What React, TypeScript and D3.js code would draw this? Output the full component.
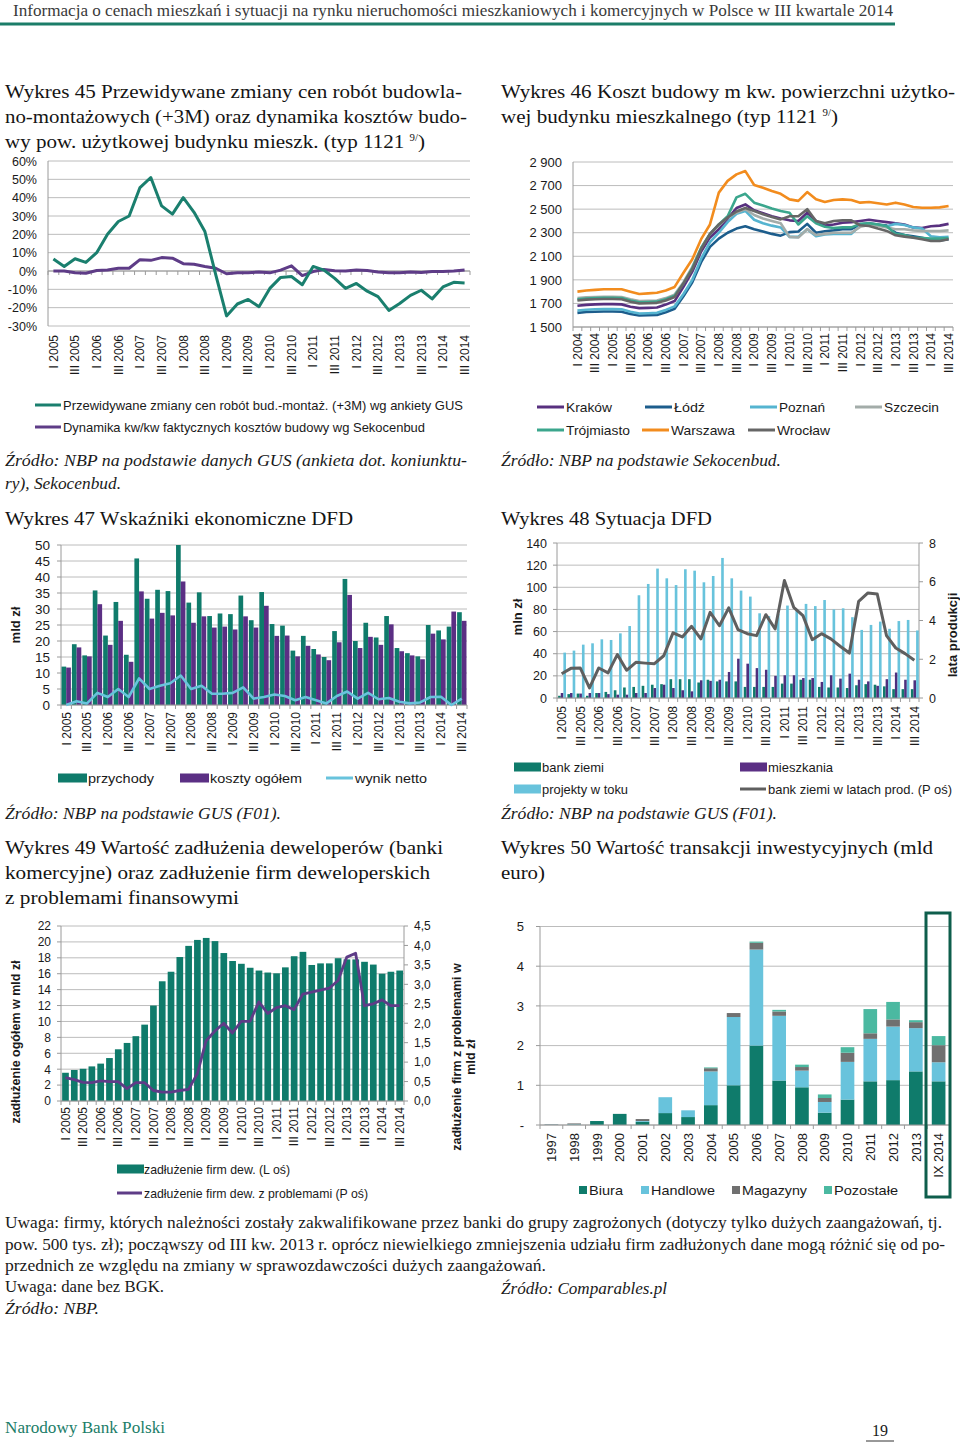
import { useEffect, useRef } from 'react';
import * as d3 from 'd3';

const SERIF = "'Liberation Serif', 'Times New Roman', serif";
const SANS = "'Liberation Sans', Arial, sans-serif";
const NARROW = "'Liberation Sans Narrow', 'Arial Narrow', 'Liberation Sans', sans-serif";

const GRID = '#bcbcbc';
const AXIS = '#9a9a9a';
const TEAL = '#0f7b6b';
const PURPLE = '#5b2f84';
const SKY = '#68c3dc';
const GRAPHITE = '#5f5f5f';

// quarter labels, e.g. "I 2005" ... "III 2014"
const quarterNames = ['I', 'II', 'III', 'IV'];
const quarters = (from: number, to: number, lastQ: number) => {
  const out: string[] = [];
  for (let y = from; y <= to; y++) {
    for (let q = 0; q < 4; q++) {
      if (y === to && q >= lastQ) break;
      out.push(`${quarterNames[q]} ${y}`);
    }
  }
  return out;
};
const Q05 = quarters(2005, 2014, 3);
const Q04 = quarters(2004, 2014, 3);

// Wykres 45 (%)
const ticks45 = [-30, -20, -10, 0, 10, 20, 30, 40, 50, 60];
const gusForecast = [6.5, 2.5, 6.7, 4.7, 10, 20, 27, 30, 45.5, 51, 35.5, 31, 40, 32, 21.5, -2, -24.5, -18, -15.5, -19.5, -9.5, -3.5, -3, -7.5, 2.5, 0.5, -4, -9.5, -6.8, -11, -14, -21.5, -17.7, -13.3, -10.5, -15.2, -8.7, -6.2, -6.5];
const sekocenbudDyn = [0, 0, -1, -1.2, 0.3, 0.5, 1.5, 1.5, 6.2, 5.8, 7.3, 7, 4, 3.7, 2.5, 1.5, -1.5, -1, -1, -0.5, -1, 0.5, 2.8, -2.5, -0.3, 0.8, 0.2, 0, 0.5, 0.3, -0.5, -1, -1, -0.5, -0.8, -0.3, -0.3, 0, 0.6];

// Wykres 46 (zł / m kw.)
const ticks46 = [1500, 1700, 1900, 2100, 2300, 2500, 2700, 2900];
const krakow = [1680, 1688, 1692, 1694, 1694, 1692, 1672, 1660, 1662, 1665, 1690, 1720, 1840, 1970, 2140, 2260, 2330, 2420, 2510, 2540, 2490, 2465, 2440, 2420, 2405, 2400, 2470, 2400, 2360, 2370, 2385, 2390, 2400, 2410, 2400, 2390, 2380, 2370, 2345, 2340, 2355, 2360, 2375];
const lodz = [1620, 1627, 1630, 1632, 1632, 1630, 1610, 1597, 1600, 1602, 1625, 1655, 1760, 1880, 2050, 2180, 2250, 2300, 2335, 2355, 2330, 2310, 2290, 2275, 2305, 2310, 2375, 2300, 2312, 2320, 2330, 2330, 2370, 2380, 2370, 2360, 2300, 2280, 2270, 2258, 2240, 2235, 2245];
const poznan = [1640, 1647, 1650, 1652, 1652, 1650, 1630, 1615, 1617, 1620, 1645, 1675, 1780, 1900, 2080, 2220, 2300, 2390, 2460, 2485, 2410, 2380, 2360, 2345, 2265, 2265, 2330, 2270, 2285, 2290, 2290, 2290, 2360, 2370, 2365, 2355, 2375, 2365, 2345, 2335, 2270, 2262, 2265];
const szczecin = [1745, 1752, 1755, 1757, 1757, 1755, 1735, 1720, 1722, 1725, 1745, 1775, 1880, 2010, 2170, 2290, 2360, 2430, 2470, 2500, 2450, 2420, 2400, 2380, 2265, 2260, 2330, 2280, 2290, 2300, 2300, 2300, 2350, 2365, 2360, 2345, 2330, 2330, 2320, 2315, 2315, 2315, 2320];
const trojmiasto = [1735, 1742, 1745, 1747, 1747, 1745, 1725, 1710, 1712, 1715, 1735, 1765, 1870, 2000, 2170, 2290, 2370, 2440, 2600, 2630, 2555, 2530, 2505, 2485, 2470, 2370, 2440, 2380, 2350, 2340, 2345, 2345, 2375, 2380, 2370, 2355, 2290, 2280, 2260, 2255, 2250, 2250, 2255];
const warszawa = [1800, 1810, 1815, 1820, 1820, 1820, 1800, 1780, 1785, 1790, 1810, 1840, 1960, 2075, 2245, 2370, 2640, 2740, 2795, 2823, 2705, 2682, 2654, 2630, 2583, 2570, 2645, 2583, 2560, 2578, 2583, 2578, 2555, 2560, 2550, 2540, 2555, 2540, 2518, 2512, 2512, 2515, 2527];
const wroclaw = [1725, 1732, 1735, 1737, 1737, 1735, 1715, 1700, 1702, 1705, 1725, 1755, 1870, 1990, 2160, 2290, 2370, 2430, 2480, 2510, 2484, 2456, 2433, 2413, 2440, 2440, 2500, 2400, 2380, 2400, 2405, 2405, 2363, 2357, 2335, 2315, 2278, 2267, 2258, 2244, 2230, 2230, 2244];
const cities = [
  { name: 'Kraków', values: krakow, color: '#58307f' },
  { name: 'Łódź', values: lodz, color: '#1c5d8c' },
  { name: 'Poznań', values: poznan, color: '#55b4d0' },
  { name: 'Szczecin', values: szczecin, color: '#a3aca9' },
  { name: 'Trójmiasto', values: trojmiasto, color: '#3ba68d' },
  { name: 'Warszawa', values: warszawa, color: '#f28c1e' },
  { name: 'Wrocław', values: wroclaw, color: '#666666' },
];

// Wykres 47 (mld zł)
const ticks47 = [0, 5, 10, 15, 20, 25, 30, 35, 40, 45, 50];
const przychody = [12, 19, 15.5, 35.8, 21.7, 32.2, 15.7, 45.8, 33.2, 36, 35.6, 50, 32, 35.2, 27.8, 28.6, 28.4, 34.2, 26.5, 35.3, 25.3, 24.8, 17, 21.6, 17.5, 15, 23.1, 39.4, 20, 25.7, 21.1, 27.8, 17.8, 16.2, 15.2, 25, 23.3, 24.5, 29];
const kosztyOgolem = [11.7, 18, 15.2, 31.5, 18.8, 26.3, 13.5, 35.5, 27, 28.8, 28, 38.6, 25.7, 27.7, 24.2, 24.5, 23.6, 27.7, 24.2, 31, 21.6, 21.7, 15.2, 18.5, 15.8, 14, 19.6, 34.4, 17.8, 21.3, 18.8, 25.2, 16.8, 15.5, 14.3, 22.3, 20.5, 29.2, 26.3];
const wynikNetto = [0, 1.2, 0.5, 3.8, 2.5, 5, 2.5, 8.3, 5, 6, 6.8, 9.2, 5, 6, 3.5, 3.5, 3.8, 5.5, 2, 2.5, 3.3, 2.8, 1.5, 2.5, 1.5, 0.5, 2.8, 4.2, 2, 3.8, 1.8, 2.2, 1, 0.5, 0.8, 2.5, 2.6, 0, 2];

// Wykres 48 (mln zł, lata)
const ticks48L = [0, 20, 40, 60, 80, 100, 120, 140];
const ticks48R = [0, 2, 4, 6, 8];
const bankZiemi = [2, 3.5, 4, 2, 4.5, 5.5, 7, 9.5, 10, 11, 12, 12.5, 17, 17, 17, 14, 16.5, 15, 15, 15, 10, 10, 10, 10, 13, 13, 16.5, 16.5, 10, 9.5, 9.5, 9, 11.5, 12.5, 12, 10.5, 8, 8, 8];
const mieszkania = [4.5, 4.5, 4, 4.5, 4.5, 3.5, 3, 3, 4.5, 4.5, 9, 12, 9, 7, 6, 16, 15.5, 16.5, 23.5, 35.5, 31, 27, 25.5, 20, 20.5, 20.5, 18, 18, 14.5, 20.5, 17.5, 22, 16.5, 15, 11, 17, 23, 16.5, 16];
const projektyWToku = [41, 42.8, 48.2, 49.4, 53, 52.4, 58.4, 65, 92.8, 103, 116.9, 108.1, 102, 116.3, 115, 104.5, 110.2, 126.5, 108.1, 97, 91.6, 76.5, 74, 76, 83.5, 79, 85, 83, 88.5, 80, 81, 73, 61.5, 66, 69, 62.5, 69.5, 70.5, 61];
const bankZiemiLata = [1.25, 1.53, 1.55, 0.52, 1.55, 1.3, 2.24, 1.43, 1.84, 1.8, 1.77, 2.18, 3.36, 3.15, 3.7, 3.05, 4.42, 3.73, 4.65, 3.53, 3.32, 3.22, 4.3, 3.56, 6.06, 4.68, 4.25, 3.01, 3.32, 3.05, 2.67, 2.32, 4.99, 5.42, 5.37, 3.22, 2.58, 2.29, 1.95];

// Wykres 49 (mld zł)
const ticks49L = [0, 2, 4, 6, 8, 10, 12, 14, 16, 18, 20, 22];
const ticks49R = [0, 0.5, 1, 1.5, 2, 2.5, 3, 3.5, 4, 4.5];
const zadluzenie = [3.55, 3.9, 4.05, 4.35, 4.7, 5.4, 6.5, 7.3, 8.15, 9.6, 12, 15.05, 16.25, 18.1, 19.5, 20.25, 20.5, 20.1, 18.6, 17.6, 17.25, 16.75, 16.4, 16.15, 16.05, 16.8, 18.2, 18.75, 17.1, 17.3, 17.3, 17.95, 17.8, 17.8, 17.5, 17.15, 16.0, 16.25, 16.4];
const zadluzenieProblemy = [0.6, 0.55, 0.48, 0.47, 0.52, 0.5, 0.5, 0.32, 0.47, 0.47, 0.27, 0.23, 0.23, 0.27, 0.3, 0.7, 1.55, 1.8, 2.0, 1.75, 2.05, 2.05, 2.55, 2.25, 2.4, 2.45, 2.35, 2.75, 2.8, 2.85, 2.9, 3.1, 3.7, 3.8, 2.45, 2.5, 2.6, 2.45, 2.45];

// Wykres 50 (mld euro)
const ticks50 = [0, 1, 2, 3, 4, 5];
const years50 = ['1997', '1998', '1999', '2000', '2001', '2002', '2003', '2004', '2005', '2006', '2007', '2008', '2009', '2010', '2011', '2012', '2013', 'IX 2014'];
const biura = [0, 0.01, 0.1, 0.28, 0.08, 0.3, 0.2, 0.5, 1.0, 2.0, 1.12, 0.95, 0.31, 0.64, 1.1, 1.13, 1.35, 1.1];
const handlowe = [0.01, 0.01, 0, 0, 0.02, 0.4, 0.17, 0.85, 1.72, 2.42, 1.63, 0.42, 0.27, 0.95, 1.07, 1.35, 1.09, 0.48];
const magazyny = [0.01, 0.02, 0, 0, 0.05, 0, 0, 0.08, 0.1, 0.17, 0.11, 0.09, 0.1, 0.23, 0.14, 0.18, 0.15, 0.43];
const pozostale = [0, 0, 0, 0, 0, 0, 0, 0.02, 0, 0.03, 0.04, 0.06, 0.09, 0.14, 0.61, 0.44, 0.05, 0.23];

interface TextOpts {
  size?: number;
  family?: string;
  weight?: string | number;
  italic?: boolean;
  anchor?: string;
  fill?: string;
  len?: number;
  rotate?: number;
}

function txt(g: any, x: number, y: number, s: string, o: TextOpts = {}) {
  const t = g
    .append('text')
    .attr('transform', o.rotate ? `translate(${x},${y}) rotate(${o.rotate})` : null)
    .attr('x', o.rotate ? 0 : x)
    .attr('y', o.rotate ? 0 : y)
    .attr('font-family', o.family ?? SANS)
    .attr('font-size', o.size ?? 12)
    .attr('font-weight', o.weight ?? 'normal')
    .attr('font-style', o.italic ? 'italic' : 'normal')
    .attr('text-anchor', o.anchor ?? 'start')
    .attr('fill', o.fill ?? '#1a1a1a')
    .text(s);
  if (o.len) t.attr('textLength', o.len).attr('lengthAdjust', 'spacingAndGlyphs');
  return t;
}

function supText(g: any, x: number, y: number, before: string, sup: string, after: string, o: TextOpts) {
  const t = txt(g, x, y, '', o);
  t.append('tspan').text(before);
  t.append('tspan').attr('font-size', 10).attr('dy', -7).text(sup);
  t.append('tspan').attr('dy', 7).text(after);
}

function hline(g: any, x1: number, x2: number, y: number, color: string, w = 1) {
  g.append('line').attr('x1', x1).attr('x2', x2).attr('y1', y).attr('y2', y).attr('stroke', color).attr('stroke-width', w);
}

function vline(g: any, x: number, y1: number, y2: number, color: string, w = 1) {
  g.append('line').attr('x1', x).attr('x2', x).attr('y1', y1).attr('y2', y2).attr('stroke', color).attr('stroke-width', w);
}

// horizontal grid + tick labels for a value axis
function valueAxis(g: any, y: any, ticks: number[], fmt: (d: number) => string, o: { x0: number; x1: number; labelX: number; anchor: string; size: number; grid: boolean; tickX?: number; tickDir?: number }) {
  ticks.forEach((d) => {
    if (o.grid) hline(g, o.x0, o.x1, y(d), GRID);
    if (o.tickX !== undefined) g.append('line').attr('x1', o.tickX).attr('x2', o.tickX + 4 * (o.tickDir ?? -1)).attr('y1', y(d)).attr('y2', y(d)).attr('stroke', AXIS);
    txt(g, o.labelX, y(d) + o.size * 0.36, fmt(d), { size: o.size, anchor: o.anchor });
  });
}

function categoryAxis(g: any, x: any, yLine: number, labels: string[], every: number, labelTop: number, size: number) {
  const [r0, r1] = x.range();
  hline(g, r0, r1, yLine, AXIS);
  const step = x.step();
  for (let i = 0; i <= labels.length; i++) vline(g, r0 + i * step, yLine, yLine + 4, AXIS);
  labels.forEach((l, i) => {
    if (i % every) return;
    txt(g, x(l) + step / 2 + size * 0.36, labelTop, l, { size, anchor: 'end', rotate: -90 });
  });
}

function lineSwatch(g: any, x1: number, x2: number, y: number, color: string, label: string, len: number) {
  hline(g, x1, x2, y, color, 3);
  txt(g, x2 + 2, y + 4.5, label, { family: NARROW, size: 13, len });
}

function rectSwatch(g: any, x: number, y: number, w: number, h: number, color: string, label: string, len: number, tx: number) {
  g.append('rect').attr('x', x).attr('y', y - h / 2).attr('width', w).attr('height', h).attr('fill', color);
  txt(g, tx, y + 4.5, label, { family: NARROW, size: 13, len });
}

function drawPage(g: any) {
  txt(g, 13, 16, 'Informacja o cenach mieszkań i sytuacji na rynku nieruchomości mieszkaniowych i komercyjnych w Polsce w III kwartale 2014', { family: SERIF, size: 16, fill: '#3a3a3a', len: 880 });
  hline(g, 0, 895, 24, '#1b7d68', 3);

  const T = { family: SERIF, size: 19.5, fill: '#141414' };
  txt(g, 5, 98, 'Wykres 45 Przewidywane zmiany cen robót budowla-', { ...T, len: 457 });
  txt(g, 5, 123, 'no-montażowych (+3M) oraz dynamika kosztów budo-', { ...T, len: 462 });
  supText(g, 5, 148, 'wy pow. użytkowej budynku mieszk. (typ 1121 ', '9/', ')', { ...T, len: 420 });
  txt(g, 501, 98, 'Wykres 46 Koszt budowy m kw. powierzchni użytko-', { ...T, len: 454 });
  supText(g, 501, 123, 'wej budynku mieszkalnego (typ 1121 ', '9/', ')', { ...T, len: 337 });
  txt(g, 5, 525, 'Wykres 47 Wskaźniki ekonomiczne DFD', { ...T, len: 348 });
  txt(g, 501, 525, 'Wykres 48 Sytuacja DFD', { ...T, len: 211 });
  txt(g, 5, 854, 'Wykres 49 Wartość zadłużenia deweloperów (banki', { ...T, len: 438 });
  txt(g, 5, 879, 'komercyjne) oraz zadłużenie firm deweloperskich', { ...T, len: 425 });
  txt(g, 5, 904, 'z problemami finansowymi', { ...T, len: 234 });
  txt(g, 501, 854, 'Wykres 50 Wartość transakcji inwestycyjnych (mld', { ...T, len: 432 });
  txt(g, 501, 879, 'euro)', { ...T, len: 44 });

  const S = { family: SERIF, size: 17, italic: true, fill: '#1a1a1a' };
  txt(g, 5, 466, 'Źródło: NBP na podstawie danych GUS (ankieta dot. koniunktu-', { ...S, len: 462 });
  txt(g, 5, 489, 'ry), Sekocenbud.', { ...S, len: 116 });
  txt(g, 501, 466, 'Źródło: NBP na podstawie Sekocenbud.', { ...S, len: 280 });
  txt(g, 5, 819, 'Źródło: NBP na podstawie GUS (F01).', { ...S, len: 276 });
  txt(g, 501, 819, 'Źródło: NBP na podstawie GUS (F01).', { ...S, len: 276 });

  const N = { family: SERIF, size: 16, fill: '#1a1a1a' };
  txt(g, 5, 1228, 'Uwaga: firmy, których należności zostały zakwalifikowane przez banki do grupy zagrożonych (dotyczy tylko dużych zaangażowań, tj.', { ...N, len: 937 });
  txt(g, 5, 1250, 'pow. 500 tys. zł); począwszy od III kw. 2013 r. oprócz niewielkiego zmniejszenia udziału firm zadłużonych dane mogą różnić się od po-', { ...N, len: 940 });
  txt(g, 5, 1271, 'przednich ze względu na zmiany w sprawozdawczości dużych zaangażowań.', { ...N, len: 541 });
  txt(g, 5, 1292, 'Uwaga: dane bez BGK.', { ...N, len: 159 });
  txt(g, 5, 1314, 'Źródło: NBP.', { ...N, italic: true, len: 94 });
  txt(g, 501, 1294, 'Źródło: Comparables.pl', { ...N, italic: true, len: 166 });

  txt(g, 5, 1433, 'Narodowy Bank Polski', { family: SERIF, size: 16, fill: '#1b7d68', len: 160 });
  txt(g, 880, 1436, '19', { family: SERIF, size: 16, anchor: 'middle' });
  hline(g, 866, 894, 1441, '#333', 1);
}

function drawChart45(g: any) {
  const x = d3.scaleBand<string>().domain(Q05).range([48, 470]);
  const y = d3.scaleLinear().domain([-30, 60]).range([326, 161]);
  valueAxis(g, y, ticks45, (d) => `${d}%`, { x0: 48, x1: 470, labelX: 37, anchor: 'end', size: 12.5, grid: true });
  vline(g, 48, 161, 326, AXIS);
  categoryAxis(g, x, y(0), Q05, 2, 335, 12);
  g.selectAll('text.cat').remove();
  const cx = (i: number) => (x(Q05[i]) as number) + x.bandwidth() / 2;
  const line = d3.line<number>().x((_, i) => cx(i)).y((d) => y(d));
  g.append('path').attr('d', line(sekocenbudDyn)).attr('fill', 'none').attr('stroke', '#5e3c87').attr('stroke-width', 3).attr('stroke-linejoin', 'round');
  g.append('path').attr('d', line(gusForecast)).attr('fill', 'none').attr('stroke', '#1a7f6e').attr('stroke-width', 3).attr('stroke-linejoin', 'round');

  lineSwatch(g, 35, 61, 405, '#1a7f6e', 'Przewidywane zmiany cen robót bud.-montaż. (+3M) wg ankiety GUS', 400);
  lineSwatch(g, 35, 61, 427, '#5e3c87', 'Dynamika kw/kw faktycznych kosztów budowy wg Sekocenbud', 362);
}

function drawChart46(g: any) {
  const x = d3.scaleBand<string>().domain(Q04).range([573, 953]);
  const y = d3.scaleLinear().domain([1500, 2900]).range([327, 162]);
  const fmt = (d: number) => `${Math.floor(d / 1000)} ${String(d % 1000).padStart(3, '0')}`;
  valueAxis(g, y, ticks46, fmt, { x0: 573, x1: 953, labelX: 562, anchor: 'end', size: 13, grid: true });
  vline(g, 573, 162, 327, AXIS);
  categoryAxis(g, x, y(1500), Q04, 2, 333, 12);
  const cx = (i: number) => (x(Q04[i]) as number) + x.bandwidth() / 2;
  const line = d3.line<number>().x((_, i) => cx(i)).y((d) => y(d));
  cities.forEach((c) => {
    g.append('path').attr('d', line(c.values)).attr('fill', 'none').attr('stroke', c.color).attr('stroke-width', 2.6).attr('stroke-linejoin', 'round');
  });

  const pos = [
    [537, 407, 46], [645, 407, 31], [750, 407, 46], [855, 407, 55],
    [537, 430, 64], [642, 430, 64], [748, 430, 53],
  ];
  cities.forEach((c, i) => {
    const [lx, ly, len] = pos[i];
    lineSwatch(g, lx, lx + 27, ly, c.color, c.name, len);
  });
}

function drawChart47(g: any) {
  const x = d3.scaleBand<string>().domain(Q05).range([61, 467]);
  const y = d3.scaleLinear().domain([0, 50]).range([705, 545]);
  valueAxis(g, y, ticks47, (d) => `${d}`, { x0: 61, x1: 467, labelX: 50, anchor: 'end', size: 13.5, grid: true, tickX: 61 });
  vline(g, 61, 545, 705, AXIS);
  const bw = x.bandwidth();
  const sub = d3.scaleBand<string>().domain(['p', 'k']).range([bw * 0.05, bw * 0.95]);
  const cx = (i: number) => (x(Q05[i]) as number) + bw / 2;
  g.selectAll('rect.p').data(przychody).enter().append('rect')
    .attr('x', (_: number, i: number) => (x(Q05[i]) as number) + (sub('p') as number))
    .attr('y', (d: number) => y(d)).attr('width', sub.bandwidth()).attr('height', (d: number) => y(0) - y(d)).attr('fill', TEAL);
  g.selectAll('rect.k').data(kosztyOgolem).enter().append('rect')
    .attr('x', (_: number, i: number) => (x(Q05[i]) as number) + (sub('k') as number))
    .attr('y', (d: number) => y(d)).attr('width', sub.bandwidth()).attr('height', (d: number) => y(0) - y(d)).attr('fill', PURPLE);
  categoryAxis(g, x, y(0), Q05, 2, 712, 12);
  const line = d3.line<number>().x((_, i) => cx(i)).y((d) => y(d));
  g.append('path').attr('d', line(wynikNetto)).attr('fill', 'none').attr('stroke', SKY).attr('stroke-width', 2.6).attr('stroke-linejoin', 'round');
  txt(g, 20, 625, 'mld zł', { size: 13, weight: 'bold', anchor: 'middle', rotate: -90 });

  rectSwatch(g, 58, 778, 29, 9, TEAL, 'przychody', 66, 88);
  rectSwatch(g, 180, 778, 29, 9, PURPLE, 'koszty ogółem', 92, 210);
  lineSwatch(g, 326, 353, 778, SKY, 'wynik netto', 72);
}

function drawChart48(g: any) {
  const x = d3.scaleBand<string>().domain(Q05).range([557, 919]);
  const yL = d3.scaleLinear().domain([0, 140]).range([698, 543]);
  const yR = d3.scaleLinear().domain([0, 8]).range([698, 543]);
  valueAxis(g, yL, ticks48L, (d) => `${d}`, { x0: 557, x1: 919, labelX: 547, anchor: 'end', size: 12.5, grid: true, tickX: 557 });
  valueAxis(g, yR, ticks48R, (d) => `${d}`, { x0: 557, x1: 919, labelX: 929, anchor: 'start', size: 12.5, grid: false, tickX: 919, tickDir: 1 });
  vline(g, 557, 543, 698, AXIS);
  vline(g, 919, 543, 698, AXIS);
  const bw = x.bandwidth();
  const sub = d3.scaleBand<string>().domain(['b', 'm', 'p']).range([bw * 0.12, bw * 0.97]);
  const series: [number[], string, string][] = [[bankZiemi, 'b', TEAL], [mieszkania, 'm', '#4d2f7d'], [projektyWToku, 'p', SKY]];
  series.forEach(([vals, key, color]) => {
    g.selectAll(null).data(vals).enter().append('rect')
      .attr('x', (_: number, i: number) => (x(Q05[i]) as number) + (sub(key) as number))
      .attr('y', (d: number) => yL(d)).attr('width', sub.bandwidth()).attr('height', (d: number) => yL(0) - yL(d)).attr('fill', color);
  });
  categoryAxis(g, x, yL(0), Q05, 2, 706, 12);
  const cx = (i: number) => (x(Q05[i]) as number) + bw / 2;
  const line = d3.line<number>().x((_, i) => cx(i)).y((d) => yR(d));
  g.append('path').attr('d', line(bankZiemiLata)).attr('fill', 'none').attr('stroke', GRAPHITE).attr('stroke-width', 3).attr('stroke-linejoin', 'round');
  txt(g, 522, 617, 'mln  zł', { size: 13, weight: 'bold', anchor: 'middle', rotate: -90 });
  txt(g, 957, 635, 'lata produkcji', { size: 13, weight: 'bold', anchor: 'middle', rotate: -90 });

  rectSwatch(g, 514, 767, 27, 9, TEAL, 'bank ziemi', 62, 542);
  rectSwatch(g, 740, 767, 27, 9, PURPLE, 'mieszkania', 65, 768);
  rectSwatch(g, 514, 789, 27, 9, SKY, 'projekty w toku', 86, 542);
  lineSwatch(g, 740, 766, 789, GRAPHITE, 'bank ziemi w latach prod. (P oś)', 184);
}

function drawChart49(g: any) {
  const x = d3.scaleBand<string>().domain(Q05).range([61, 404]);
  const yL = d3.scaleLinear().domain([0, 22]).range([1101, 926]);
  const yR = d3.scaleLinear().domain([0, 4.5]).range([1101, 926]);
  valueAxis(g, yL, ticks49L, (d) => `${d}`, { x0: 61, x1: 404, labelX: 51, anchor: 'end', size: 12, grid: true, tickX: 61 });
  valueAxis(g, yR, ticks49R, (d) => d.toFixed(1).replace('.', ','), { x0: 61, x1: 404, labelX: 414, anchor: 'start', size: 12, grid: false, tickX: 404, tickDir: 1 });
  vline(g, 61, 926, 1101, AXIS);
  vline(g, 404, 926, 1101, AXIS);
  const bw = x.bandwidth();
  g.selectAll(null).data(zadluzenie).enter().append('rect')
    .attr('x', (_: number, i: number) => (x(Q05[i]) as number) + bw * 0.13)
    .attr('y', (d: number) => yL(d)).attr('width', bw * 0.76).attr('height', (d: number) => yL(0) - yL(d)).attr('fill', TEAL);
  categoryAxis(g, x, yL(0), Q05, 2, 1107, 12);
  const cx = (i: number) => (x(Q05[i]) as number) + bw / 2;
  const line = d3.line<number>().x((_, i) => cx(i)).y((d) => yR(d));
  g.append('path').attr('d', line(zadluzenieProblemy)).attr('fill', 'none').attr('stroke', '#5e3c87').attr('stroke-width', 2.8).attr('stroke-linejoin', 'round');
  txt(g, 20, 1042, 'zadłużenie ogółem w mld zł', { size: 12.5, weight: 'bold', anchor: 'middle', rotate: -90 });
  txt(g, 461, 1057, 'zadłużenie firm z problemami w', { size: 12.5, weight: 'bold', anchor: 'middle', rotate: -90 });
  txt(g, 475, 1057, 'mld zł', { size: 12.5, weight: 'bold', anchor: 'middle', rotate: -90 });

  rectSwatch(g, 117, 1169, 27, 9, TEAL, 'zadłużenie firm dew. (L oś)', 146, 144);
  lineSwatch(g, 117, 142, 1193, '#5e3c87', 'zadłużenie firm dew. z problemami (P oś)', 224);
}

function drawChart50(g: any) {
  const x = d3.scaleBand<string>().domain(years50).range([540, 950]);
  const y = d3.scaleLinear().domain([0, 5]).range([1125, 926.5]);
  valueAxis(g, y, ticks50, (d) => (d === 0 ? '-' : `${d}`), { x0: 540, x1: 950, labelX: 524, anchor: 'end', size: 13, grid: true, tickX: 540 });
  vline(g, 540, 926.5, 1125, AXIS);
  const keys = ['Biura', 'Handlowe', 'Magazyny', 'Pozostałe'];
  const colors = [TEAL, SKY, '#707070', '#4bb9a1'];
  const rows = years50.map((yr, i) => ({ yr, Biura: biura[i], Handlowe: handlowe[i], Magazyny: magazyny[i], Pozostałe: pozostale[i] }));
  const stack = d3.stack<any>().keys(keys)(rows);
  const bw = x.bandwidth();
  stack.forEach((layer, k) => {
    g.selectAll(null).data(layer).enter().append('rect')
      .attr('x', (d: any) => (x(d.data.yr) as number) + bw * 0.2)
      .attr('y', (d: any) => y(d[1]))
      .attr('width', bw * 0.6)
      .attr('height', (d: any) => Math.max(0, y(d[0]) - y(d[1])))
      .attr('fill', colors[k]);
  });
  categoryAxis(g, x, y(0), years50, 1, 1133, 13);
  g.append('rect').attr('x', 926).attr('y', 913).attr('width', 24).attr('height', 284).attr('fill', 'none').attr('stroke', '#0e5e4c').attr('stroke-width', 3);

  const lx = [579, 641, 732, 824];
  const lens = [34, 64, 65, 64];
  keys.forEach((k, i) => {
    g.append('rect').attr('x', lx[i]).attr('y', 1186).attr('width', 8).attr('height', 8).attr('fill', colors[i]);
    txt(g, lx[i] + 10, 1195, k, { size: 13, len: lens[i] });
  });
}

export default function App() {
  const svgRef = useRef<SVGSVGElement | null>(null);

  useEffect(() => {
    if (!svgRef.current) return;
    const svg = d3.select(svgRef.current);
    svg.selectAll('*').remove();
    svg.append('rect').attr('width', 960).attr('height', 1445).attr('fill', '#fff');
    drawPage(svg.append('g'));
    drawChart45(svg.append('g'));
    drawChart46(svg.append('g'));
    drawChart47(svg.append('g'));
    drawChart48(svg.append('g'));
    drawChart49(svg.append('g'));
    drawChart50(svg.append('g'));
  }, []);

  return (
    <svg
      ref={svgRef}
      width={960}
      height={1445}
      style={{ position: 'absolute', left: 0, top: 0, display: 'block' }}
    />
  );
}
